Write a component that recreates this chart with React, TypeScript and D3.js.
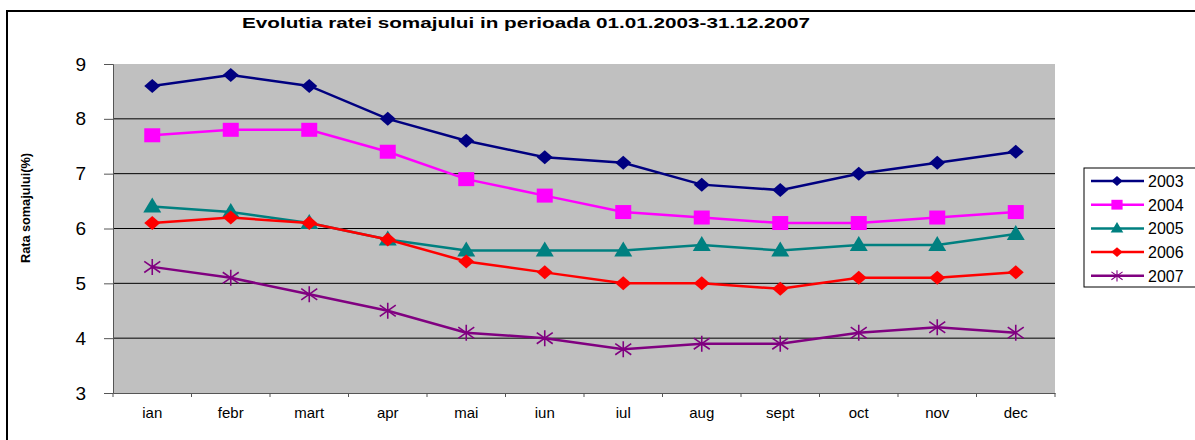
import * as d3 from 'd3';
import React, { useRef, useEffect } from 'react';

const months = ["ian", "febr", "mart", "apr", "mai", "iun", "iul", "aug", "sept", "oct", "nov", "dec"];
const yTicks = [3, 4, 5, 6, 7, 8, 9];

const s2003 = [8.6, 8.8, 8.6, 8.0, 7.6, 7.3, 7.2, 6.8, 6.7, 7.0, 7.2, 7.4];
const s2004 = [7.7, 7.8, 7.8, 7.4, 6.9, 6.6, 6.3, 6.2, 6.1, 6.1, 6.2, 6.3];
const s2005 = [6.4, 6.3, 6.1, 5.8, 5.6, 5.6, 5.6, 5.7, 5.6, 5.7, 5.7, 5.9];
const s2006 = [6.1, 6.2, 6.1, 5.8, 5.4, 5.2, 5.0, 5.0, 4.9, 5.1, 5.1, 5.2];
const s2007 = [5.3, 5.1, 4.8, 4.5, 4.1, 4.0, 3.8, 3.9, 3.9, 4.1, 4.2, 4.1];

const series = [
  { name: "2003", values: s2003, color: "#000080", marker: "diamond" },
  { name: "2004", values: s2004, color: "#ff00ff", marker: "square" },
  { name: "2005", values: s2005, color: "#008080", marker: "triangle" },
  { name: "2006", values: s2006, color: "#ff0000", marker: "diamond" },
  { name: "2007", values: s2007, color: "#800080", marker: "star" },
];

function drawMarker(g: any, kind: string, x: number, y: number, color: string) {
  if (kind === "diamond") {
    g.append("path")
      .attr("d", `M${x},${y - 7}L${x + 8},${y}L${x},${y + 7}L${x - 8},${y}Z`)
      .attr("fill", color);
  } else if (kind === "square") {
    g.append("rect")
      .attr("x", x - 8).attr("y", y - 7)
      .attr("width", 16).attr("height", 14)
      .attr("fill", color);
  } else if (kind === "triangle") {
    g.append("path")
      .attr("d", `M${x},${y - 9}L${x + 9},${y + 6}L${x - 9},${y + 6}Z`)
      .attr("fill", color);
  } else {
    const r = 8;
    const p = [
      `M${x - r},${y - r * 0.7}L${x + r},${y + r * 0.7}`,
      `M${x - r},${y + r * 0.7}L${x + r},${y - r * 0.7}`,
      `M${x},${y - r}L${x},${y + r}`,
    ].join("");
    g.append("path").attr("d", p).attr("stroke", color).attr("stroke-width", 1.6).attr("fill", "none");
  }
}

function LineChart(): any {
  const ref = useRef(null);
  const width = 1195;
  const height = 440;
  const plot = { left: 113, right: 1055, top: 64, bottom: 393 };

  useEffect(() => {
    const svg = d3.select(ref.current);
    svg.selectAll("*").remove();

    const xScale = d3.scaleBand()
      .domain(months)
      .range([plot.left, plot.right]);
    const yScale = d3.scaleLinear()
      .domain([3, 9])
      .range([plot.bottom, plot.top]);

    // outer chart border
    svg.append("rect")
      .attr("x", 7).attr("y", 11)
      .attr("width", 1200).attr("height", 440)
      .attr("fill", "white")
      .attr("stroke", "black")
      .attr("stroke-width", 2);

    svg.append("text")
      .attr("x", 526).attr("y", 28)
      .attr("text-anchor", "middle")
      .attr("font-family", "Liberation Sans, Arial, sans-serif")
      .attr("font-weight", "bold")
      .attr("font-size", 15.5)
      .attr("textLength", 568)
      .attr("lengthAdjust", "spacingAndGlyphs")
      .text("Evolutia ratei somajului in perioada 01.01.2003-31.12.2007");

    svg.append("rect")
      .attr("x", plot.left).attr("y", plot.top)
      .attr("width", plot.right - plot.left)
      .attr("height", plot.bottom - plot.top)
      .attr("fill", "#c0c0c0");

    const grid = svg.append("g");
    yTicks.filter((t) => t > 3 && t < 9).forEach((t) => {
      grid.append("line")
        .attr("x1", plot.left).attr("x2", plot.right)
        .attr("y1", yScale(t)).attr("y2", yScale(t))
        .attr("stroke", "#000").attr("stroke-width", 1);
    });

    const yAxis = svg.append("g")
      .attr("transform", "translate(" + plot.left + ",0)")
      .call(d3.axisLeft(yScale).tickValues(yTicks).tickSize(9).tickPadding(18).tickFormat(d3.format("d")));
    yAxis.select(".domain").attr("stroke", "#555");
    yAxis.selectAll(".tick line").attr("stroke", "#555");
    yAxis.selectAll("text")
      .attr("font-family", "Liberation Sans, Arial, sans-serif")
      .attr("font-size", 19)
      .attr("fill", "#000");

    const xAxis = svg.append("g")
      .attr("transform", "translate(0," + plot.bottom + ")")
      .call(d3.axisBottom(xScale).tickSize(0).tickPadding(14));
    xAxis.select(".domain").attr("stroke", "#555");
    xAxis.selectAll("text")
      .attr("font-family", "Liberation Sans, Arial, sans-serif")
      .attr("font-size", 15)
      .attr("fill", "#000");
    const bounds = months.map((m) => xScale(m) || 0).concat([plot.right]);
    bounds.forEach((b) => {
      svg.append("line")
        .attr("x1", b).attr("x2", b)
        .attr("y1", plot.bottom).attr("y2", plot.bottom + 4)
        .attr("stroke", "#555");
    });

    svg.append("text")
      .attr("transform", "translate(30,208) rotate(-90)")
      .attr("text-anchor", "middle")
      .attr("font-family", "Liberation Sans, Arial, sans-serif")
      .attr("font-weight", "bold")
      .attr("font-size", 13)
      .attr("textLength", 110)
      .attr("lengthAdjust", "spacingAndGlyphs")
      .text("Rata somajului(%)");

    const line = d3.line<number>()
      .x((_, i) => (xScale(months[i]) || 0) + xScale.bandwidth() / 2)
      .y((d) => yScale(d));

    series.forEach((s) => {
      const g = svg.append("g");
      g.append("path")
        .datum(s.values)
        .attr("d", line)
        .attr("fill", "none")
        .attr("stroke", s.color)
        .attr("stroke-width", 2.5);
      s.values.forEach((v, i) => {
        drawMarker(g, s.marker, (xScale(months[i]) || 0) + xScale.bandwidth() / 2, yScale(v), s.color);
      });
    });

    // legend
    const legend = svg.append("g");
    legend.append("rect")
      .attr("x", 1084).attr("y", 168)
      .attr("width", 130).attr("height", 119)
      .attr("fill", "white").attr("stroke", "black").attr("stroke-width", 1);
    series.forEach((s, i) => {
      const y = 181 + i * 23.7;
      legend.append("line")
        .attr("x1", 1091).attr("x2", 1144)
        .attr("y1", y).attr("y2", y)
        .attr("stroke", s.color).attr("stroke-width", 2.5);
      const lg = legend.append("g").attr("transform", `translate(1117,${y}) scale(0.7) translate(-1117,${-y})`);
      drawMarker(lg, s.marker, 1117, y, s.color);
      legend.append("text")
        .attr("x", 1148).attr("y", y + 6)
        .attr("font-family", "Liberation Sans, Arial, sans-serif")
        .attr("font-size", 16)
        .text(s.name);
    });
  }, []);

  return (
    <svg
      ref={ref}
      width={width}
      height={height}
      style={{ position: "absolute", left: 0, top: 0, display: "block", background: "white" }}
    />
  );
}

export default function App() {
  return <LineChart />;
}
